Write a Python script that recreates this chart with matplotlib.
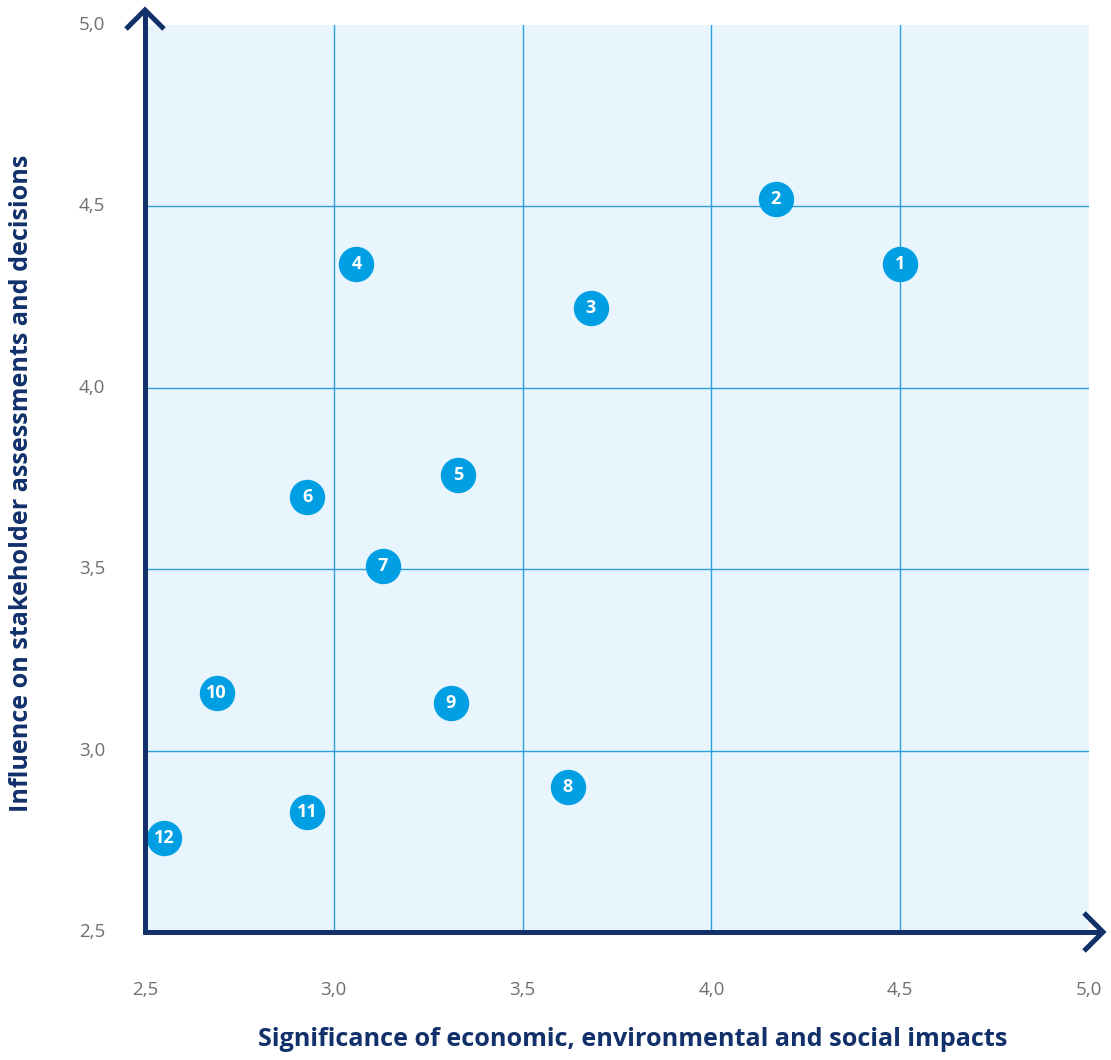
import numpy as np
import matplotlib
matplotlib.use("Agg")
import matplotlib.pyplot as plt
from matplotlib.lines import Line2D

# Données
labels = ['1', '2', '3', '4', '5', '6', '7', '8', '9', '10', '11', '12']
significance = [4.50, 4.17, 3.68, 3.06, 3.33, 2.93, 3.13, 3.62, 3.31, 2.69, 2.93, 2.55]
influence = [4.34, 4.52, 4.22, 4.34, 3.76, 3.70, 3.51, 2.90, 3.13, 3.16, 2.83, 2.76]
ticks = [2.5, 3.0, 3.5, 4.0, 4.5, 5.0]

navy = '#12306a'
blue = '#009fe3'
grid_col = '#2ba0dc'
bg = '#e8f5fd'
grey = '#6f6f6f'

plt.rcParams['font.family'] = ['Open Sans', 'DejaVu Sans']

W, H = 1111, 1060
fig = plt.figure(figsize=(W / 100, H / 100), dpi=100)
ax = fig.add_axes([145 / W, 1 - 932 / H, (1089 - 145) / W, (932 - 25) / H])
ax.set_xlim(2.5, 5.0)
ax.set_ylim(2.5, 5.0)
ax.set_facecolor(bg)
for s in ax.spines.values():
    s.set_visible(False)

# grille
for t in ticks[1:-1]:
    ax.axvline(t, color=grid_col, lw=1.0, zorder=1)
    ax.axhline(t, color=grid_col, lw=1.0, zorder=1)

ax.set_xticks([])
ax.set_yticks([])

# étiquettes des graduations
for t in ticks:
    lab = f'{t:.1f}'.replace('.', ',')
    ax.annotate(lab, xy=(t, 2.5), xycoords='data', xytext=(0, -58),
                textcoords='offset pixels', ha='center', va='center',
                color=grey, fontsize=13.5, annotation_clip=False)
    ax.annotate(lab, xy=(2.5, t), xycoords='data', xytext=(-40, 0),
                textcoords='offset pixels', ha='right', va='center',
                color=grey, fontsize=13.5, annotation_clip=False)

# points numérotés
ax.plot(significance, influence, 'o', ms=25.5, color=blue, mew=0,
        zorder=3, clip_on=False)
for lab, x, y in zip(labels, significance, influence):
    ax.text(x, y, lab, ha='center', va='center', color='white',
            fontsize=13, fontweight='bold', zorder=4)

# axes fléchés
lw = 3.6
def fig_line(xs, ys):
    fig.add_artist(Line2D([x / W for x in xs], [1 - y / H for y in ys],
                          transform=fig.transFigure, color=navy, lw=lw,
                          solid_capstyle='butt', solid_joinstyle='miter'))

fig_line([145, 145], [934, 11])
fig_line([126, 145, 164], [29, 10, 29])
fig_line([143, 1101], [932, 932])
fig_line([1084, 1103, 1084], [913, 932, 951])

fig.text(633 / W, 1 - 1040 / H, 'Significance of economic, environmental and social impacts',
         ha='center', va='center', color=navy, fontsize=18.2, fontweight='bold')
fig.text(22 / W, 1 - 483 / H, 'Influence on stakeholder assessments and decisions',
         ha='center', va='center', rotation=90, color=navy, fontsize=18.1,
         fontweight='bold')

fig.savefig('out.png', dpi=100)
